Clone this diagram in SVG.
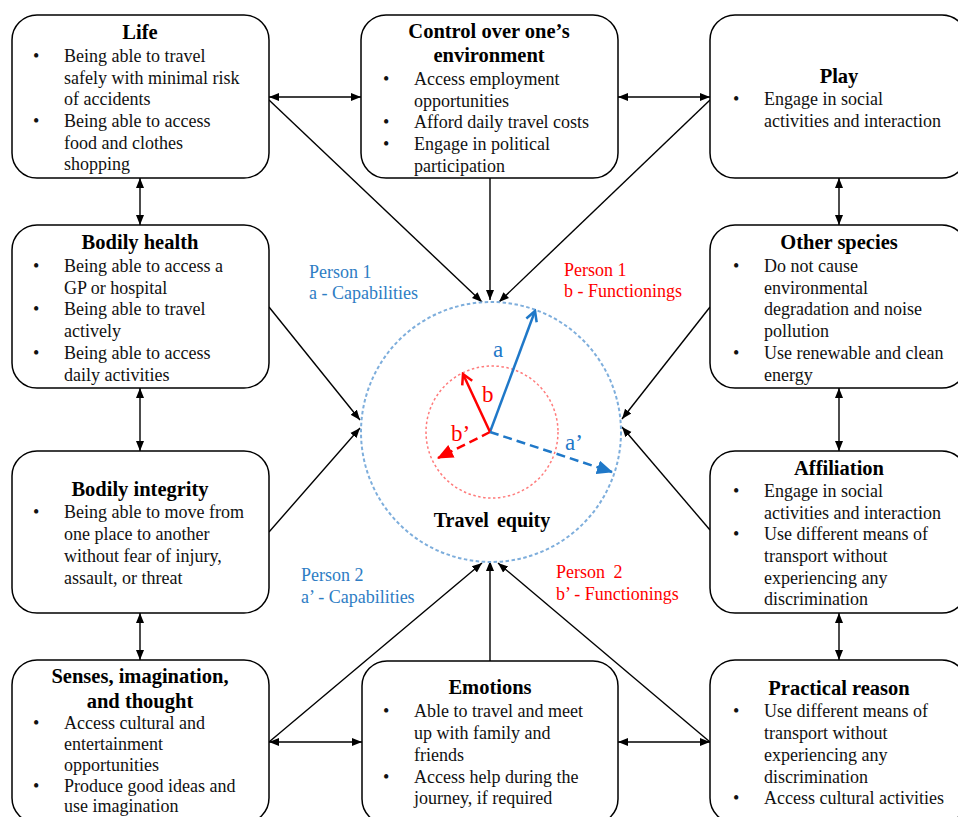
<svg xmlns="http://www.w3.org/2000/svg" width="958" height="817" viewBox="0 0 958 817">
<style>
.box{fill:#fff;stroke:#000;stroke-width:1.5}
.t{font-family:"Liberation Serif","Times New Roman",serif;font-size:20.5px;font-weight:bold;text-anchor:middle;fill:#000}
.b{font-family:"Liberation Serif","Times New Roman",serif;font-size:18px;fill:#111}
.con{stroke:#000;stroke-width:1.4;fill:none}
.lblB{font-family:"Liberation Serif","Times New Roman",serif;font-size:18px;fill:#2E7DC4}
.lblR{font-family:"Liberation Serif","Times New Roman",serif;font-size:18px;fill:#FF0000}
.vl{font-family:"Liberation Serif","Times New Roman",serif;font-size:23px}
</style>
<defs>
<marker id="ah" viewBox="0 0 10 10" refX="10" refY="5" markerWidth="10" markerHeight="10" markerUnits="userSpaceOnUse" orient="auto-start-reverse">
<path d="M0,1 L10,5 L0,9 z" fill="#000"/>
</marker>
<marker id="openB" viewBox="0 0 14 14" refX="12" refY="7" markerWidth="14" markerHeight="14" markerUnits="userSpaceOnUse" orient="auto">
<path d="M2,1.5 L12,7 L2,12.5" fill="none" stroke="#1F78C8" stroke-width="2.5"/>
</marker>
<marker id="openR" viewBox="0 0 14 14" refX="12" refY="7" markerWidth="14" markerHeight="14" markerUnits="userSpaceOnUse" orient="auto">
<path d="M2,1.5 L12,7 L2,12.5" fill="none" stroke="#FF0000" stroke-width="2.5"/>
</marker>
<marker id="triB" viewBox="0 0 16 14" refX="15" refY="7" markerWidth="16" markerHeight="14" markerUnits="userSpaceOnUse" orient="auto">
<path d="M0,0 L16,7 L0,14 z" fill="#1F78C8"/>
</marker>
<marker id="triR" viewBox="0 0 16 14" refX="15" refY="7" markerWidth="16" markerHeight="14" markerUnits="userSpaceOnUse" orient="auto">
<path d="M0,0 L16,7 L0,14 z" fill="#FF0000"/>
</marker>
</defs>
<rect width="958" height="817" fill="#fff"/>

<g id="connectors">
<path class="con" d="M269,97 L361,97" marker-start="url(#ah)" marker-end="url(#ah)"/>
<path class="con" d="M618,97 L710,97" marker-start="url(#ah)" marker-end="url(#ah)"/>
<path class="con" d="M140,178 L140,225" marker-start="url(#ah)" marker-end="url(#ah)"/>
<path class="con" d="M140,388 L140,451" marker-start="url(#ah)" marker-end="url(#ah)"/>
<path class="con" d="M140,613 L140,660" marker-start="url(#ah)" marker-end="url(#ah)"/>
<path class="con" d="M839,178 L839,225" marker-start="url(#ah)" marker-end="url(#ah)"/>
<path class="con" d="M839,388 L839,451" marker-start="url(#ah)" marker-end="url(#ah)"/>
<path class="con" d="M839,613 L839,660" marker-start="url(#ah)" marker-end="url(#ah)"/>
<path class="con" d="M269,742 L362,742" marker-start="url(#ah)" marker-end="url(#ah)"/>
<path class="con" d="M618,742 L710,742" marker-start="url(#ah)" marker-end="url(#ah)"/>
<path class="con" d="M269,100 L482,302" marker-end="url(#ah)"/>
<path class="con" d="M490,178 L490,300" marker-end="url(#ah)"/>
<path class="con" d="M710,100 L499,302" marker-end="url(#ah)"/>
<path class="con" d="M269,307 L360,420" marker-end="url(#ah)"/>
<path class="con" d="M269,532 L360,428" marker-end="url(#ah)"/>
<path class="con" d="M710,307 L622,419" marker-end="url(#ah)"/>
<path class="con" d="M710,530 L622,427" marker-end="url(#ah)"/>
<path class="con" d="M269,742 L482,563" marker-end="url(#ah)"/>
<path class="con" d="M490,661 L490,561" marker-end="url(#ah)"/>
<path class="con" d="M710,742 L498,563" marker-end="url(#ah)"/>
</g>

<g id="travel-equity">
<circle cx="491" cy="432" r="130" fill="none" stroke="#7EAEDC" stroke-width="2" stroke-dasharray="3.5 2.5"/>
<circle cx="492" cy="432" r="66" fill="none" stroke="#FF7A7A" stroke-width="1.5" stroke-dasharray="2.5 2.5"/>
<path d="M490,432 L535,311" stroke="#1F78C8" stroke-width="2.5" fill="none" marker-end="url(#openB)"/>
<path d="M490,432 L463,374" stroke="#FF0000" stroke-width="2.5" fill="none" marker-end="url(#openR)"/>
<path d="M490,432 L438,458" stroke="#FF0000" stroke-width="2.5" fill="none" stroke-dasharray="9 5" marker-end="url(#triR)"/>
<path d="M490,432 L612,472" stroke="#1F78C8" stroke-width="2.5" fill="none" stroke-dasharray="9 5" marker-end="url(#triB)"/>
<text class="vl" x="493" y="357" fill="#1F78C8">a</text>
<text class="vl" x="482" y="402" fill="#FF0000">b</text>
<text class="vl" x="451" y="441" fill="#FF0000">b’</text>
<text class="vl" x="565" y="450" fill="#1F78C8">a’</text>
<text class="t" x="492" y="527" style="font-size:20px;word-spacing:3px">Travel equity</text>
</g>

<g id="labels">
<text class="lblB" x="309" y="278">Person 1</text>
<text class="lblB" x="309" y="299">a - Capabilities</text>
<text class="lblR" x="564" y="276">Person 1</text>
<text class="lblR" x="564" y="297">b - Functionings</text>
<text class="lblB" x="301" y="581">Person 2</text>
<text class="lblB" x="301" y="603">a’ - Capabilities</text>
<text class="lblR" x="556" y="578" style="word-spacing:4px">Person 2</text>
<text class="lblR" x="556" y="600">b’ - Functionings</text>
</g>

<g id="life">
<rect class="box" x="12" y="15" width="257" height="163" rx="25"/>
<text class="t" x="140" y="39">Life</text>
<text class="b" x="33" y="62">•</text><text class="b" x="64" y="62">Being able to travel</text>
<text class="b" x="64" y="84">safely with minimal risk</text>
<text class="b" x="64" y="105">of accidents</text>
<text class="b" x="33" y="127">•</text><text class="b" x="64" y="127">Being able to access</text>
<text class="b" x="64" y="149">food and clothes</text>
<text class="b" x="64" y="170">shopping</text>
</g>

<g id="control">
<rect class="box" x="361" y="15" width="257" height="163" rx="25"/>
<text class="t" x="489" y="38">Control over one’s</text>
<text class="t" x="489" y="62">environment</text>
<text class="b" x="383" y="85">•</text><text class="b" x="414" y="85">Access employment</text>
<text class="b" x="414" y="107">opportunities</text>
<text class="b" x="383" y="128">•</text><text class="b" x="414" y="128">Afford daily travel costs</text>
<text class="b" x="383" y="150">•</text><text class="b" x="414" y="150">Engage in political</text>
<text class="b" x="414" y="172">participation</text>
</g>

<g id="play">
<rect class="box" x="710" y="15" width="257" height="163" rx="25"/>
<text class="t" x="839" y="83">Play</text>
<text class="b" x="733" y="105">•</text><text class="b" x="764" y="105">Engage in social</text>
<text class="b" x="764" y="127">activities and interaction</text>
</g>

<g id="bodily-health">
<rect class="box" x="12" y="225" width="257" height="163" rx="25"/>
<text class="t" x="140" y="249">Bodily health</text>
<text class="b" x="33" y="272">•</text><text class="b" x="64" y="272">Being able to access a</text>
<text class="b" x="64" y="294">GP or hospital</text>
<text class="b" x="33" y="315">•</text><text class="b" x="64" y="315">Being able to travel</text>
<text class="b" x="64" y="337">actively</text>
<text class="b" x="33" y="359">•</text><text class="b" x="64" y="359">Being able to access</text>
<text class="b" x="64" y="381">daily activities</text>
</g>

<g id="other-species">
<rect class="box" x="710" y="225" width="257" height="163" rx="25"/>
<text class="t" x="839" y="249">Other species</text>
<text class="b" x="733" y="272">•</text><text class="b" x="764" y="272">Do not cause</text>
<text class="b" x="764" y="294">environmental</text>
<text class="b" x="764" y="315">degradation and noise</text>
<text class="b" x="764" y="337">pollution</text>
<text class="b" x="733" y="359">•</text><text class="b" x="764" y="359">Use renewable and clean</text>
<text class="b" x="764" y="381">energy</text>
</g>

<g id="bodily-integrity">
<rect class="box" x="12" y="451" width="257" height="162" rx="25"/>
<text class="t" x="140" y="496">Bodily integrity</text>
<text class="b" x="33" y="518">•</text><text class="b" x="64" y="518">Being able to move from</text>
<text class="b" x="64" y="540">one place to another</text>
<text class="b" x="64" y="562">without fear of injury,</text>
<text class="b" x="64" y="584">assault, or threat</text>
</g>

<g id="affiliation">
<rect class="box" x="710" y="451" width="257" height="162" rx="25"/>
<text class="t" x="839" y="475">Affiliation</text>
<text class="b" x="733" y="497">•</text><text class="b" x="764" y="497">Engage in social</text>
<text class="b" x="764" y="519">activities and interaction</text>
<text class="b" x="733" y="540">•</text><text class="b" x="764" y="540">Use different means of</text>
<text class="b" x="764" y="562">transport without</text>
<text class="b" x="764" y="584">experiencing any</text>
<text class="b" x="764" y="605">discrimination</text>
</g>

<g id="senses">
<rect class="box" x="12" y="660" width="257" height="163" rx="25"/>
<text class="t" x="140" y="683">Senses, imagination,</text>
<text class="t" x="140" y="708">and thought</text>
<text class="b" x="33" y="729">•</text><text class="b" x="64" y="729">Access cultural and</text>
<text class="b" x="64" y="750">entertainment</text>
<text class="b" x="64" y="771">opportunities</text>
<text class="b" x="33" y="792">•</text><text class="b" x="64" y="792">Produce good ideas and</text>
<text class="b" x="64" y="812">use imagination</text>
</g>

<g id="emotions">
<rect class="box" x="362" y="661" width="256" height="163" rx="25"/>
<text class="t" x="490" y="694">Emotions</text>
<text class="b" x="383" y="717">•</text><text class="b" x="414" y="717">Able to travel and meet</text>
<text class="b" x="414" y="739">up with family and</text>
<text class="b" x="414" y="761">friends</text>
<text class="b" x="383" y="783">•</text><text class="b" x="414" y="783">Access help during the</text>
<text class="b" x="414" y="804">journey, if required</text>
</g>

<g id="practical-reason">
<rect class="box" x="710" y="660" width="257" height="163" rx="25"/>
<text class="t" x="839" y="695">Practical reason</text>
<text class="b" x="733" y="717">•</text><text class="b" x="764" y="717">Use different means of</text>
<text class="b" x="764" y="739">transport without</text>
<text class="b" x="764" y="761">experiencing any</text>
<text class="b" x="764" y="783">discrimination</text>
<text class="b" x="733" y="804">•</text><text class="b" x="764" y="804">Access cultural activities</text>
</g>
</svg>
